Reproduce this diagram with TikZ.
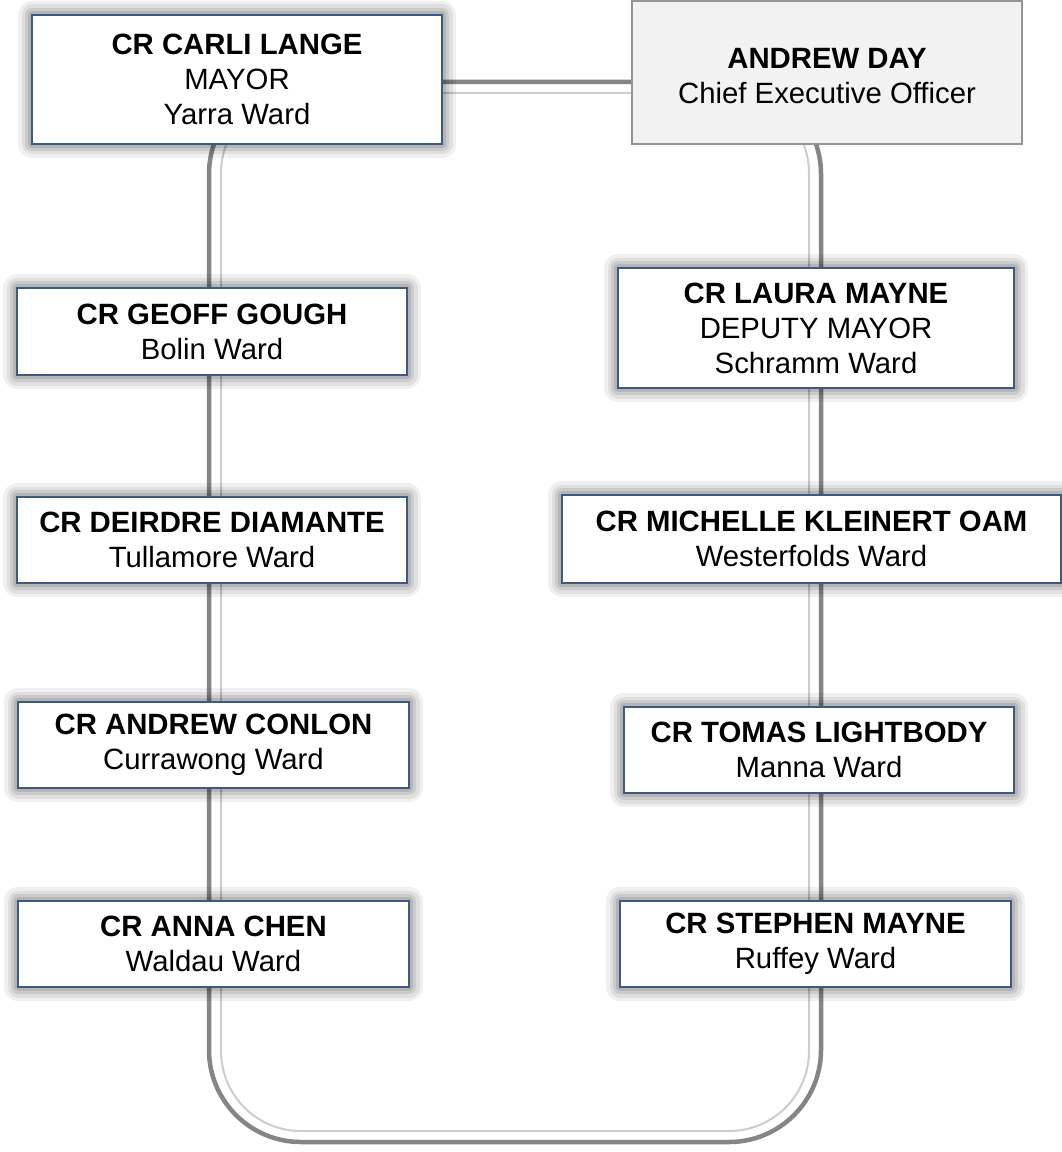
\documentclass[tikz,border=0pt]{standalone}
\usepackage{fontspec}
\setmainfont{Liberation Sans}
\definecolor{boxborder}{HTML}{3E5A7E}
\definecolor{pipeouter}{HTML}{858585}
\definecolor{pipeinner}{HTML}{CDCDCD}
\definecolor{ceofill}{HTML}{F2F2F2}
\definecolor{ceoborder}{HTML}{959595}
\begin{document}
\begin{tikzpicture}[x=0.75pt,y=-0.75pt,
  pipeout/.style={draw=pipeouter,line width=4.5*0.75pt},
  pipein/.style={draw=pipeinner,line width=2*0.75pt},
  txt/.style={font=\fontsize{22}{26.25}\selectfont,align=center,text=black,inner sep=0pt},
  glow/.style={
    preaction={draw=black,draw opacity=0.06,line width=28*0.75pt,line join=round},
    preaction={draw=black,draw opacity=0.07,line width=21*0.75pt,line join=round},
    preaction={draw=black,draw opacity=0.09,line width=14*0.75pt,line join=round},
    preaction={draw=black,draw opacity=0.11,line width=8*0.75pt,line join=round}},
  cbox/.style={txt,glow,draw=boxborder,line width=1.2*0.75pt,fill=white,rectangle},
  ceobox/.style={draw=ceoborder,line width=1.5*0.75pt,fill=ceofill,rectangle,inner sep=0pt}
]
\useasboundingbox (0,0) rectangle (1062,1152);
% loop connector
\coordinate (loopA) at (209,82);
\coordinate (loopB) at (821,1142);
\coordinate (loopC) at (221,93);
\coordinate (loopD) at (809,1131);
\draw[pipeout,rounded corners=92*0.75pt] (loopA) rectangle (loopB);
\draw[pipein,rounded corners=80*0.75pt] (loopC) rectangle (loopD);
% boxes
\node[cbox,minimum width=410*0.75pt,minimum height=129*0.75pt] (carli) at (237,79.5)
  {\textbf{CR CARLI LANGE}\\MAYOR\\Yarra Ward};
\node[ceobox,minimum width=390*0.75pt,minimum height=143*0.75pt] (ceo) at (827,72.5) {};
\node[txt] (ceotext) at ([yshift=-3pt]ceo.center) {\textbf{ANDREW DAY}\\Chief Executive Officer};
\node[cbox,minimum width=390*0.75pt,minimum height=87*0.75pt] (geoff) at (212,331.5)
  {\textbf{CR GEOFF GOUGH}\\Bolin Ward};
\node[cbox,minimum width=396*0.75pt,minimum height=120*0.75pt] (laura) at (816,328)
  {\textbf{CR LAURA MAYNE}\\DEPUTY MAYOR\\Schramm Ward};
\node[cbox,minimum width=390*0.75pt,minimum height=86*0.75pt] (deirdre) at (212,540)
  {\textbf{CR DEIRDRE DIAMANTE}\\Tullamore Ward};
\node[cbox,minimum width=499*0.75pt,minimum height=88*0.75pt] (michelle) at (811.5,539)
  {\textbf{CR MICHELLE KLEINERT OAM}\\Westerfolds Ward};
\node[cbox,minimum width=391*0.75pt,minimum height=86*0.75pt] (conlon) at (213.5,745)
  {\textbf{CR ANDREW CONLON}\\Currawong Ward};
\node[cbox,minimum width=390*0.75pt,minimum height=86*0.75pt] (tomas) at (819,750)
  {\textbf{CR TOMAS LIGHTBODY}\\Manna Ward};
\node[cbox,minimum width=391*0.75pt,minimum height=86*0.75pt] (anna) at (213.5,944)
  {\textbf{CR ANNA CHEN}\\Waldau Ward};
\node[cbox,minimum width=391*0.75pt,minimum height=86*0.75pt] (stephen) at (815.5,944)
  {\textbf{CR STEPHEN MAYNE}\\Ruffey Ward};
\end{tikzpicture}
\end{document}
